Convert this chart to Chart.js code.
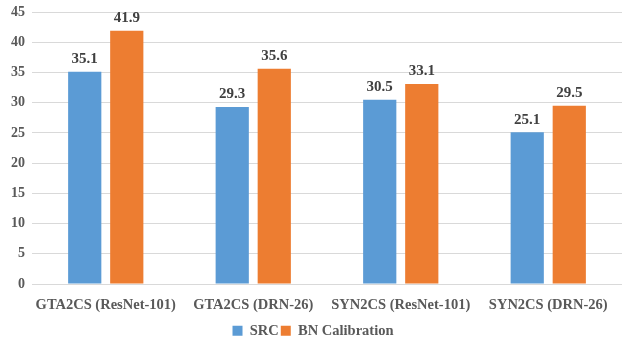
<!DOCTYPE html>
<html>
<head>
<meta charset="utf-8">
<script src="https://cdn.jsdelivr.net/npm/chart.js@4"></script>
<style>
  html, body { margin: 0; padding: 0; background: #fff; }
  #wrap { width: 623px; height: 343px; }
</style>
</head>
<body>
<div id="wrap"><canvas id="calibChart"></canvas></div>
<script>
const categories = ['GTA2CS (ResNet-101)', 'GTA2CS (DRN-26)', 'SYN2CS (ResNet-101)', 'SYN2CS (DRN-26)'];
const srcValues = [35.1, 29.3, 30.5, 25.1];
const bnValues = [41.9, 35.6, 33.1, 29.5];
const yTicks = [0, 5, 10, 15, 20, 25, 30, 35, 40, 45];

const serif = '"Liberation Serif", "Times New Roman", serif';

// draws the value above each bar
const valueLabels = {
    id: 'valueLabels',
    afterDatasetsDraw(chart) {
        const ctx = chart.ctx;
        ctx.save();
        ctx.font = 'bold 15px ' + serif;
        ctx.fillStyle = '#404040';
        ctx.textAlign = 'center';
        ctx.textBaseline = 'bottom';
        chart.data.datasets.forEach(function(ds, i) {
            chart.getDatasetMeta(i).data.forEach(function(bar, j) {
                ctx.fillText(ds.data[j].toFixed(1), bar.x, bar.y - 5);
            });
        });
        ctx.restore();
    }
};

document.addEventListener('DOMContentLoaded', function() {
    const ctx = document.getElementById('calibChart').getContext('2d');

    new Chart(ctx, {
        type: 'bar',
        data: {
            labels: categories,
            datasets: [{
                label: 'SRC',
                data: srcValues,
                backgroundColor: '#5B9BD5'
            }, {
                label: 'BN Calibration',
                data: bnValues,
                backgroundColor: '#ED7D31'
            }]
        },
        options: {
            responsive: true,
            maintainAspectRatio: false,
            animation: false,
            categoryPercentage: 0.57,
            barPercentage: 0.79,
            layout: { padding: { top: 12, right: 1, left: 4, bottom: -5 } },
            plugins: {
                legend: {
                    position: 'bottom',
                    labels: {
                        boxWidth: 10,
                        boxHeight: 10,
                        padding: 2,
                        color: '#595959',
                        font: { family: serif, size: 14.5, weight: 'bold' }
                    }
                },
                tooltip: { enabled: false }
            },
            scales: {
                x: {
                    grid: { display: false },
                    border: { display: false },
                    afterFit: function(axis) { axis.height += 4; },
                    ticks: {
                        color: '#595959',
                        padding: 4,
                        minRotation: 0,
                        maxRotation: 0,
                        autoSkip: false,
                        font: { family: serif, size: 14.5, weight: 'bold' }
                    }
                },
                y: {
                    min: 0,
                    max: 45,
                    afterBuildTicks: function(axis) {
                        axis.ticks = yTicks.map(function(v) { return { value: v }; });
                    },
                    afterFit: function(axis) { axis.paddingTop = 0; },
                    grid: { color: '#D9D9D9', drawTicks: false },
                    border: { display: false },
                    ticks: {
                        color: '#595959',
                        padding: 7,
                        font: { family: serif, size: 14, weight: 'bold' }
                    }
                }
            }
        },
        plugins: [valueLabels]
    });
});
</script>
</body>
</html>
